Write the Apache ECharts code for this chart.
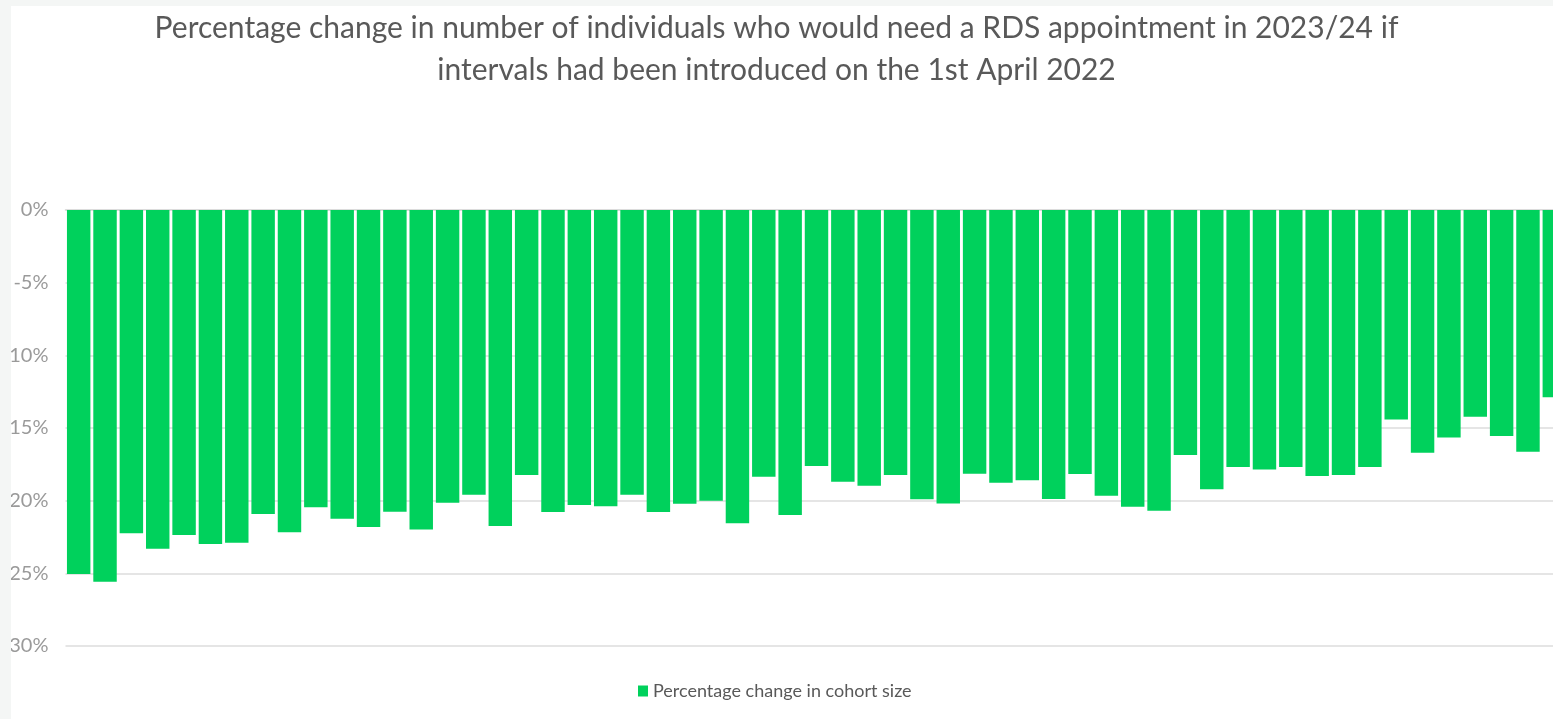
<!DOCTYPE html>
<html>
<head>
<meta charset="utf-8">
<script src="https://cdn.jsdelivr.net/npm/echarts@6/dist/echarts.min.js"></script>
<style>
html,body{margin:0;padding:0;background:#f4f6f5;width:1553px;height:719px;overflow:hidden;}
#chart{position:absolute;left:11px;top:6px;width:1570px;height:713px;background:#ffffff;}
</style>
</head>
<body>
<div id="chart"></div>
<script>
const titleLines = [
  "Percentage change in number of individuals who would need a RDS appointment in 2023/24 if",
  "intervals had been introduced on the 1st April 2022"
];
const seriesName = "Percentage change in cohort size";
const tickLabels = ["0%", "-5%", "10%", "15%", "20%", "25%", "30%"];
const values = [
  -25.05, -25.58, -22.25, -23.31, -22.37, -22.99, -22.90, -20.92, -22.18, -20.46,
  -21.24, -21.82, -20.76, -21.98, -20.14, -19.59, -21.75, -18.24, -20.78, -20.30,
  -20.39, -19.59, -20.78, -20.21, -20.00, -21.56, -18.35, -20.99, -17.62, -18.70,
  -18.97, -18.24, -19.91, -20.19, -18.15, -18.77, -18.60, -19.89, -18.17, -19.66,
  -20.42, -20.70, -16.86, -19.22, -17.69, -17.85, -17.69, -18.31, -18.24, -17.69,
  -14.41, -16.70, -15.65, -14.22, -15.55, -16.63, -12.89
];
const categories = values.map((v, i) => String(i + 1));

const chart = echarts.init(document.getElementById('chart'), null, {renderer: 'canvas'});
const font = 'Lato, "Open Sans", sans-serif';
chart.setOption({
  animation: false,
  backgroundColor: '#ffffff',
  title: {
    text: titleLines.join('\n'),
    left: 765.5,
    top: 1,
    padding: 0,
    textAlign: 'center',
    textStyle: {
      fontFamily: font,
      fontSize: 30,
      fontWeight: 'normal',
      color: '#595959',
      lineHeight: 42
    }
  },
  legend: {
    data: [seriesName],
    left: 622,
    top: 671,
    itemWidth: 10,
    itemHeight: 11,
    icon: 'rect',
    textStyle: {fontFamily: font, fontSize: 18, color: '#595959'}
  },
  grid: {
    left: 54.5,
    top: 204,
    width: 1502,
    height: 436,
    containLabel: false,
    outerBoundsMode: 'none'
  },
  xAxis: {
    type: 'category',
    data: categories,
    axisLine: {show: true, lineStyle: {color: '#d9d9d9', width: 1.5}},
    axisTick: {show: false},
    axisLabel: {show: false},
    splitLine: {show: false}
  },
  yAxis: {
    type: 'value',
    min: -30,
    max: 0,
    interval: 5,
    axisLine: {show: false},
    axisTick: {show: false},
    axisLabel: {
      margin: 17,
      fontFamily: font,
      fontSize: 20,
      color: '#9a9a9a',
      formatter: function (v) {
        const idx = Math.round(-v / 5);
        return tickLabels[idx] !== undefined ? tickLabels[idx] : '';
      }
    },
    splitLine: {show: true, lineStyle: {color: '#dcdcdc', width: 1.5}}
  },
  series: [{
    name: seriesName,
    type: 'bar',
    data: values,
    barCategoryGap: '11%',
    itemStyle: {color: '#00d15c'}
  }]
});
</script>
</body>
</html>
